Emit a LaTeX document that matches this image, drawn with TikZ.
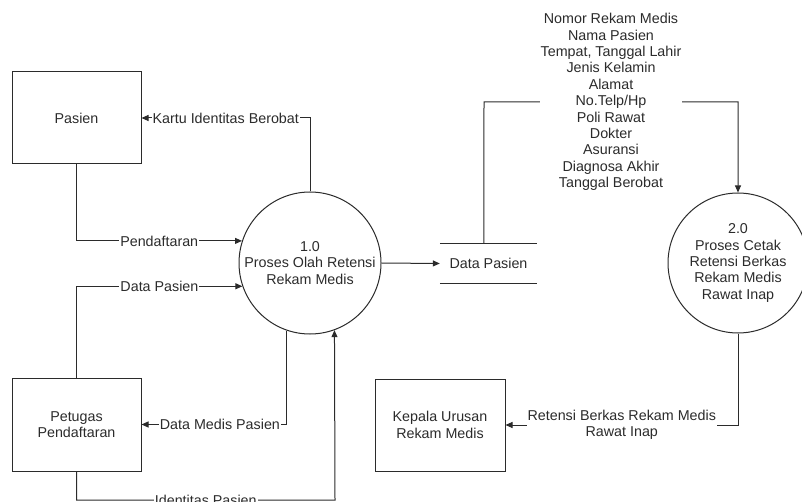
\documentclass[tikz,border=0pt]{standalone}
\usepackage{fontspec}
\setmainfont{Liberation Sans}
\usetikzlibrary{arrows.meta}
\definecolor{ink}{HTML}{2B2B2B}
\tikzset{
  base/.style={font=\fontsize{14.3}{16.4}\selectfont, text=ink},
  entity/.style={base, draw=ink, line width=1pt, minimum width=129pt, minimum height=92pt, align=center, inner sep=0pt},
  process/.style={base, draw=ink, line width=1pt, circle, align=center, inner sep=0pt},
  flow/.style={draw=ink, line width=1pt, -{Triangle[length=7pt,width=6pt]}},
  lbl/.style={base, fill=white, inner sep=1pt, align=center},
}
\begin{document}
\begin{tikzpicture}[x=1pt, y=-1pt]
\useasboundingbox (0,0) rectangle (802,502);

% external entities
\node[entity] (pasien)  at (76.5,118)   {Pasien};
\node[entity, minimum height=93pt] (petugas) at (76.5,424.5) {Petugas\\Pendaftaran};
\node[entity, minimum width=130pt] (kepala) at (440,425) {Kepala Urusan\\Rekam Medis};

% processes
\node[process, minimum size=142pt] (p1) at (310,263) {1.0\\Proses Olah Retensi\\Rekam Medis};
\node[process, minimum size=140pt] (p2) at (738,263) {2.0\\Proses Cetak\\Retensi Berkas\\Rekam Medis\\Rawat Inap};

% data store
\node[base, minimum width=97pt, minimum height=39pt, inner sep=0pt] (store) at (488.5,263.5) {Data Pasien};
\draw[draw=ink, line width=1pt] (store.north west) -- (store.north east);
\draw[draw=ink, line width=1pt] (store.south west) -- (store.south east);

% flows
\draw[flow] (p1.north) |- node[lbl, pos=0.75] {Kartu Identitas Berobat} (pasien.east);
\draw[flow] (pasien.south) |- node[lbl, pos=0.75] {Pendaftaran} (p1.162.8);
\draw[flow] (petugas.north) |- node[lbl, pos=0.75] {Data Pasien} (p1.199.7);
\draw[flow] (p1.251.1) |- node[lbl, pos=0.73] {Data Medis Pasien} (petugas.east);

\coordinate (idc) at (335,500);
\draw[flow] (petugas.south) |- node[lbl, pos=0.75] {Identitas Pasien} (idc) -- (p1.290.6);

\draw[flow] (p1.east) -- (store.west);

\coordinate (s1) at (484,102);
\coordinate (s2) at (738,102);
\draw[flow] ([xshift=44pt]store.north west) -- (s1) -- node[lbl] {Nomor Rekam Medis\\Nama Pasien\\Tempat, Tanggal Lahir\\Jenis Kelamin\\Alamat\\No.Telp/Hp\\Poli Rawat\\Dokter\\Asuransi\\Diagnosa Akhir\\Tanggal Berobat} (s2) -- (p2.north);

\draw[flow] (p2.south) |- node[lbl, pos=0.75] {Retensi Berkas Rekam Medis\\Rawat Inap} (kepala.east);
\end{tikzpicture}
\end{document}
